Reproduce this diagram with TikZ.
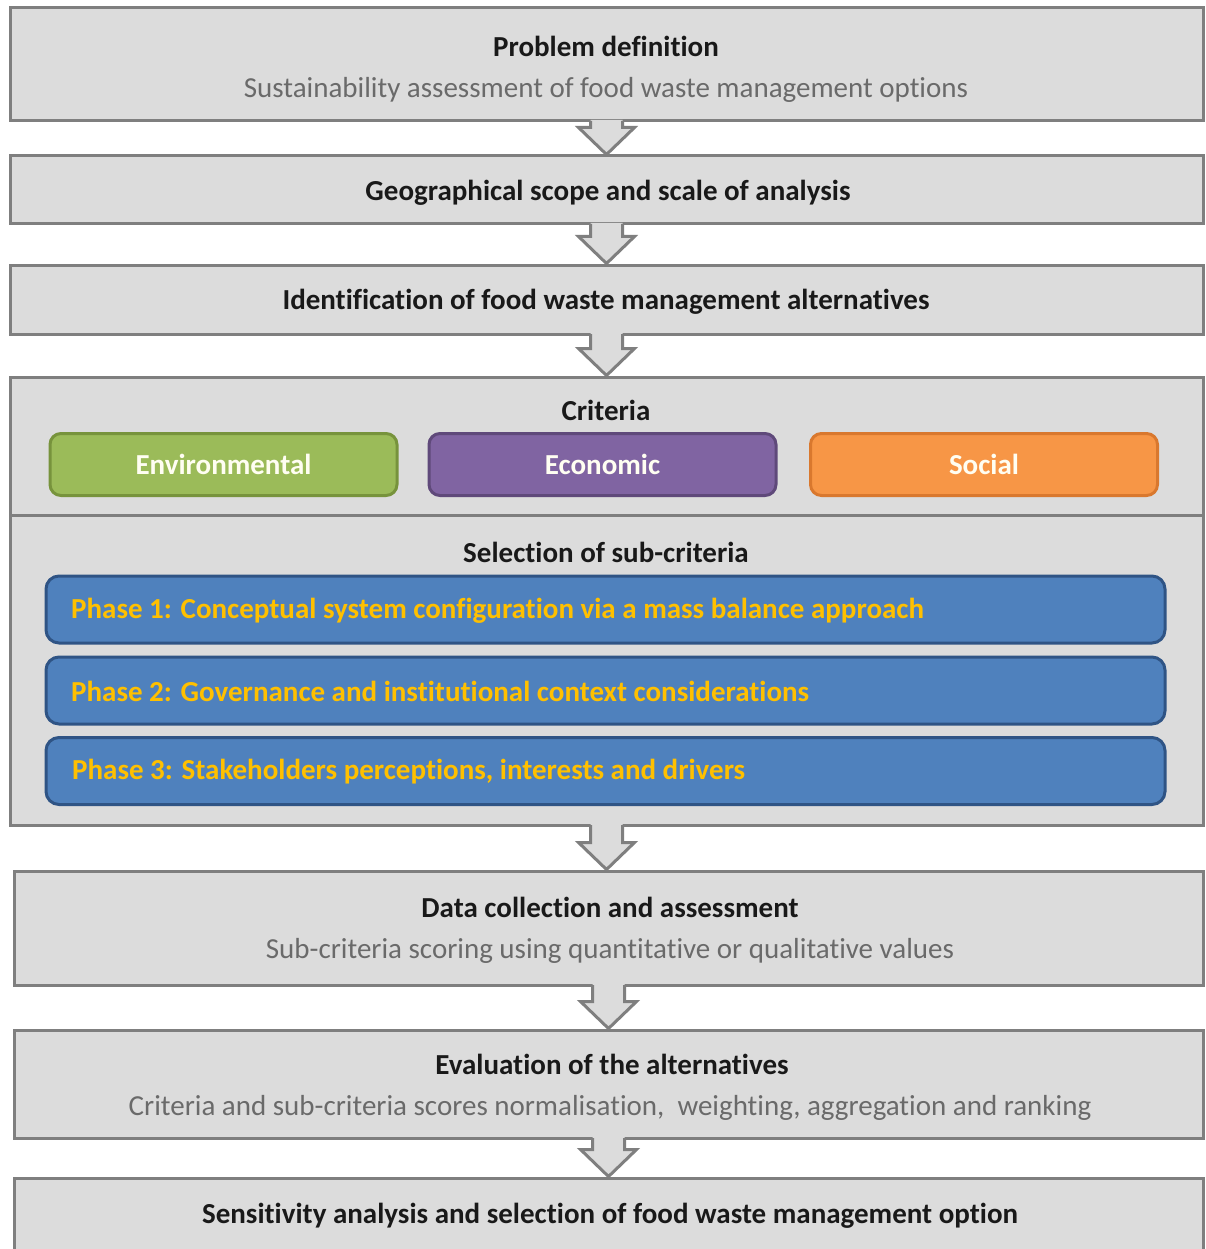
\documentclass[tikz,border=0pt]{standalone}
\usepackage{fontspec}
\setmainfont[Ligatures={NoCommon}]{Carlito}
\usetikzlibrary{calc}
\definecolor{boxfill}{HTML}{DCDCDC}
\definecolor{boxline}{HTML}{7F7F7F}
\definecolor{subtext}{HTML}{6A6A6A}
\definecolor{envfill}{HTML}{9BBB59}
\definecolor{envline}{HTML}{77933C}
\definecolor{ecofill}{HTML}{8064A2}
\definecolor{ecoline}{HTML}{5F497A}
\definecolor{socfill}{HTML}{F79646}
\definecolor{socline}{HTML}{D9782E}
\definecolor{phfill}{HTML}{4F81BD}
\definecolor{phline}{HTML}{2F5485}
\definecolor{phtext}{HTML}{FFC000}
\tikzset{
  stage/.style={draw=boxline, fill=boxfill, line width=3pt, rectangle, inner sep=0pt},
  titletext/.style={font=\fontsize{29}{34}\selectfont\bfseries, text=black!90, inner sep=0pt},
  subtexts/.style={font=\fontsize{29}{34}\selectfont, text=subtext, inner sep=0pt},
  pill/.style={rectangle, rounded corners=11pt, line width=3pt, inner sep=0pt,
     minimum width=347pt, minimum height=62pt, text=white!95!yellow,
     font=\fontsize{29}{34}\selectfont\bfseries},
  phase/.style={rectangle, rounded corners=13pt, draw=phline, fill=phfill, line width=3pt,
     inner sep=0pt, minimum width=1119pt, minimum height=67pt},
  phasetext/.style={font=\fontsize{29}{34}\selectfont\bfseries, text=phtext, inner sep=0pt, anchor=west},
  arrowline/.style={draw=boxline, line width=3pt, line join=miter}
}
\newcommand\flowarrow[2]{%
  \fill[boxfill] ($(#1.south)+(-16,-2.5)$) -- ($(#1.south |- #2.north)+(-16,-27)$)
     -- ($(#1.south |- #2.north)+(-28,-27)$) -- ($(#1.south |- #2.north)+(0,0)$)
     -- ($(#1.south |- #2.north)+(28,-27)$) -- ($(#1.south |- #2.north)+(16,-27)$)
     -- ($(#1.south)+(16,-2.5)$) -- cycle;
  \draw[arrowline] ($(#1.south)+(-16,-1.5)$) -- ($(#1.south |- #2.north)+(-16,-27)$)
     -- ($(#1.south |- #2.north)+(-28,-27)$) -- ($(#1.south |- #2.north)+(0,0)$)
     -- ($(#1.south |- #2.north)+(28,-27)$) -- ($(#1.south |- #2.north)+(16,-27)$)
     -- ($(#1.south)+(16,-1.5)$);
}
\begin{document}
\begin{tikzpicture}[x=1pt,y=-1pt]
\useasboundingbox (0,0) rectangle (1205,1249);
\clip (0,0) rectangle (1205,1249);
\fill[white] (0,0) rectangle (1205,1249);

% stage boxes
\node[stage, minimum width=1193pt, minimum height=113pt] (b1) at (606.5,64.5) {};
\node[stage, minimum width=1193pt, minimum height=68pt] (b2) at (606.5,190) {};
\node[stage, minimum width=1193pt, minimum height=69pt] (b3) at (606.5,299.5) {};
\node[stage, minimum width=1193pt, minimum height=138pt] (b4) at (606.5,446) {};
\node[stage, minimum width=1193pt, minimum height=310pt] (b5) at (606.5,670) {};
\node[stage, minimum width=1189pt, minimum height=114pt] (b6) at (608.5,928) {};
\node[stage, minimum width=1189pt, minimum height=108pt] (b7) at (608.5,1084) {};
\node[stage, minimum width=1189pt, minimum height=110pt] (b8) at (608.5,1233) {};

% arrows
\flowarrow{b1}{b2}
\flowarrow{b2}{b3}
\flowarrow{b3}{b4}
\flowarrow{b5}{b6}
\flowarrow{b6}{b7}
\flowarrow{b7}{b8}

% texts
\node[titletext] (t1) at (606,46) {Problem definition};
\node[subtexts] (s1) at (606,90) {Sustainability assessment of food waste management options};
\node[titletext] (t2) at (608,193) {Geographical scope and scale of analysis};
\node[titletext] (t3) at (606,302) {Identification of food waste management alternatives};
\node[titletext] (t4) at (606,410) {Criteria};
\node[titletext] (t5) at (606,552) {Selection of sub-criteria};
\node[titletext] (t6) at (610,907) {Data collection and assessment};
\node[subtexts] (s6) at (610,951) {Sub-criteria scoring using quantitative or qualitative values};
\node[titletext] (t7) at (612,1064) {Evaluation of the alternatives};
\node[subtexts] (s7) at (610,1108) {Criteria and sub-criteria scores normalisation,\ \ weighting, aggregation and ranking};
\node[titletext] (t8) at (610,1216) {Sensitivity analysis and selection of food waste management option};

% criteria pills
\node[pill, draw=envline, fill=envfill] (env) at (223.5,464.5) {Environmental};
\node[pill, draw=ecoline, fill=ecofill] (eco) at (602.5,464.5) {Economic};
\node[pill, draw=socline, fill=socfill] (soc) at (984,464.5) {Social};

% phases
\node[phase] (p1) at (605.5,609.5) {};
\node[phase] (p2) at (605.5,690.5) {};
\node[phase] (p3) at (605.5,771) {};
\node[phasetext] (pt1) at (71,611) {Phase 1: Conceptual system configuration via a mass balance approach};
\node[phasetext] (pt2) at (71,691) {Phase 2: Governance and institutional context considerations};
\node[phasetext] (pt3) at (72,772) {Phase 3: Stakeholders perceptions, interests and drivers};
\end{tikzpicture}
\end{document}
